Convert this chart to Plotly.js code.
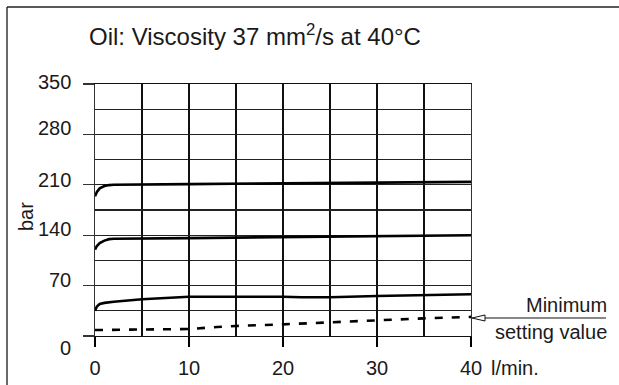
<!DOCTYPE html>
<html>
<head>
<meta charset="utf-8">
<script src="https://cdn.plot.ly/plotly-3.0.1.min.js"></script>
<style>html,body{margin:0;padding:0;background:#fff;}#chart{width:619px;height:385px;}</style>
</head>
<body>
<div id="chart"></div>
<script>
// Data (flow l/min vs pressure bar)
var flowTop = [0, 0.2, 0.5, 1, 1.5, 2, 10, 20, 30, 40];
var presTop = [194, 200, 205, 208.3, 209.6, 210, 211, 212, 213, 214];

var flowMid = [0, 0.2, 0.5, 1, 1.5, 2, 10, 20, 30, 40];
var presMid = [120, 125, 129, 132.5, 134.5, 135, 136, 137, 138.5, 140];

var flowLow = [0, 0.2, 0.5, 1, 2, 5, 10, 15, 20, 22, 25, 30, 35, 40];
var presLow = [35, 41, 44.5, 46, 47.5, 51, 54.5, 55, 54.5, 53.8, 53.8, 55.5, 57, 58];

var flowMin = [0, 5, 10, 13, 15, 20, 25, 30, 35, 40];
var presMin = [8.3, 8.5, 9.7, 12.5, 13.9, 16.2, 19, 22, 24.5, 26.5];

var xTickVals = [0, 10, 20, 30, 40];
var xTickText = ['0', '10', '20', '30', '40'];
var yTickVals = [0, 70, 140, 210, 280, 350];
var yTickText = ['0', '70', '140', '210', '280', '350'];
var yLabelShift = [-12, 6, 6, 5, 6, 2];

var FONT = 'Liberation Sans, Arial, Helvetica, sans-serif';
var TXT = '#1a1a1a';
var solid = {color: '#000', width: 2.6, shape: 'linear'};

var traces = [
  {x: flowTop, y: presTop, mode: 'lines', line: solid, hoverinfo: 'skip'},
  {x: flowMid, y: presMid, mode: 'lines', line: solid, hoverinfo: 'skip'},
  {x: flowLow, y: presLow, mode: 'lines', line: solid, hoverinfo: 'skip'},
  {x: flowMin, y: presMin, mode: 'lines', line: {color: '#000', width: 2.6, dash: '8px,9px'}, hoverinfo: 'skip'}
];

var annotations = [
  {text: 'Oil: Viscosity 37 mm<sup>2</sup>/s at 40°C', xref: 'paper', yref: 'paper',
   x: (87 - 95) / 376, y: (336 - 35) / 252, xanchor: 'left', yanchor: 'middle', showarrow: false,
   font: {family: FONT, size: 24, color: TXT}},
  {text: 'bar', xref: 'paper', yref: 'paper', x: (26 - 95) / 376, y: (336 - 217) / 252,
   textangle: -90, xanchor: 'center', yanchor: 'middle', showarrow: false,
   font: {family: FONT, size: 20, color: TXT}},
  {text: 'l/min.', xref: 'paper', yref: 'paper', x: (489 - 95) / 376, y: (336 - 368) / 252,
   xanchor: 'left', yanchor: 'middle', showarrow: false, font: {family: FONT, size: 20, color: TXT}},
  {text: 'Minimum', xref: 'paper', yref: 'paper', x: (609 - 95) / 376, y: (336 - 305) / 252,
   xanchor: 'right', yanchor: 'middle', showarrow: false, font: {family: FONT, size: 20, color: TXT}},
  {text: 'setting value', xref: 'paper', yref: 'paper', x: (609 - 95) / 376, y: (336 - 332) / 252,
   xanchor: 'right', yanchor: 'middle', showarrow: false, font: {family: FONT, size: 20, color: TXT}}
];
yTickVals.forEach(function (v, i) {
  annotations.push({text: yTickText[i], xref: 'paper', yref: 'y', x: (73 - 95) / 376, y: v,
    yshift: yLabelShift[i], xanchor: 'right', yanchor: 'middle', showarrow: false,
    font: {family: FONT, size: 20, color: TXT}});
});

var px = function (p) { return (p - 95) / 376; };
var py = function (p) { return (336 - p) / 252; };

var shapes = [
  {type: 'line', xref: 'paper', yref: 'paper', x0: px(7), x1: px(7), y0: py(7), y1: py(400), line: {color: '#444', width: 1.6}},
  {type: 'line', xref: 'paper', yref: 'paper', x0: px(7), x1: px(625), y0: py(7), y1: py(7), line: {color: '#222', width: 1.6}},
  {type: 'line', xref: 'paper', yref: 'paper', x0: px(485), x1: px(606), y0: py(318), y1: py(318), line: {color: '#111', width: 1.2}},
  {type: 'path', xref: 'paper', yref: 'paper',
   path: 'M ' + px(472) + ' ' + py(318) + ' L ' + px(485) + ' ' + py(315) + ' L ' + px(485) + ' ' + py(321) + ' Z',
   fillcolor: '#fff', line: {color: '#111', width: 1}}
];

var layout = {
  width: 619, height: 385,
  margin: {l: 95, r: 148, t: 84, b: 49},
  paper_bgcolor: '#fff', plot_bgcolor: '#fff',
  showlegend: false,
  font: {family: FONT, size: 20, color: TXT},
  xaxis: {
    range: [0, 40], tickmode: 'array', tickvals: xTickVals, ticktext: xTickText,
    ticks: 'outside', ticklen: 10, tickwidth: 1.2, tickcolor: '#000',
    showgrid: true, gridcolor: '#111', gridwidth: 1.2,
    minor: {dtick: 5, tick0: 0, showgrid: true, gridcolor: '#111', gridwidth: 1.2, ticks: ''},
    showline: true, mirror: true, linecolor: '#111', linewidth: 1.2,
    zeroline: false, fixedrange: true, ticklabelstandoff: 4,
    tickfont: {family: FONT, size: 20, color: TXT}
  },
  yaxis: {
    range: [0, 350], tickmode: 'array', tickvals: yTickVals, showticklabels: false,
    ticks: 'outside', ticklen: 11, tickwidth: 1.2, tickcolor: '#333',
    showgrid: true, gridcolor: '#222', gridwidth: 1.2,
    minor: {dtick: 35, tick0: 0, showgrid: true, gridcolor: '#222', gridwidth: 1.2, ticks: ''},
    showline: true, mirror: true, linecolor: '#333', linewidth: 1.2,
    zeroline: false, fixedrange: true
  },
  annotations: annotations,
  shapes: shapes
};

Plotly.newPlot('chart', traces, layout, {staticPlot: true, displayModeBar: false});
</script>
</body>
</html>
